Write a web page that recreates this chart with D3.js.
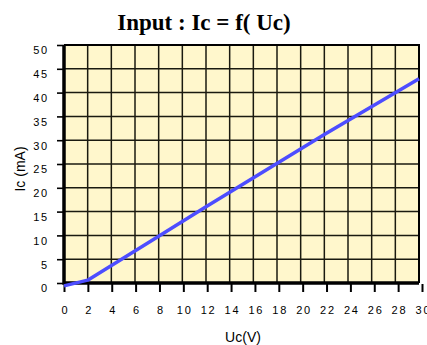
<!DOCTYPE html>
<html>
<head>
<meta charset="utf-8">
<script src="https://cdn.jsdelivr.net/npm/d3@7"></script>
<style>
  body { margin: 0; background: #fff; }
  svg { display: block; }
</style>
</head>
<body>
<svg id="chart" width="427" height="345"></svg>
<script>
// data
const ucValues = [0, 2, 8, 12, 22, 30];
const icValues = [-0.6, 0.6, 9.8, 16, 31.2, 42.9];
const xTicks = [0, 2, 4, 6, 8, 10, 12, 14, 16, 18, 20, 22, 24, 26, 28, 30];
const yTicks = [0, 5, 10, 15, 20, 25, 30, 35, 40, 45, 50];

const svg = d3.select("#chart");

// grid / plot scale and a slightly wider one for the bottom ticks
const x = d3.scaleLinear().domain([0, 30]).range([64, 419]);
const xTick = d3.scaleLinear().domain([0, 30]).range([64, 422]);
const y = d3.scaleLinear().domain([0, 50]).range([283, 45]);

// **** Plot background
svg.append("rect")
  .attr("x", x(0))
  .attr("y", y(50))
  .attr("width", x(30) - x(0))
  .attr("height", y(0) - y(50))
  .attr("fill", "#fff7cc");

// **** Grid
const grid = svg.append("g").attr("stroke", "#1a1a10").attr("stroke-width", 1.5);
xTicks.slice(1, -1).forEach(d => {
  grid.append("line")
    .attr("x1", x(d)).attr("x2", x(d))
    .attr("y1", y(50)).attr("y2", y(0));
});
yTicks.slice(1, -1).forEach(d => {
  grid.append("line")
    .attr("x1", x(0)).attr("x2", x(30))
    .attr("y1", y(d)).attr("y2", y(d));
});

// top and right border
svg.append("path")
  .attr("d", `M${x(0)},${y(50)}H${x(30)}V${y(0)}`)
  .attr("fill", "none")
  .attr("stroke", "#000")
  .attr("stroke-width", 2);

// **** Axes
const xAxis = d3.axisBottom(xTick).tickValues(xTicks).tickSize(8).tickPadding(14);
const gx = svg.append("g")
  .attr("transform", `translate(0,${y(0) + 1})`)
  .call(xAxis);
gx.select(".domain").remove();
gx.selectAll(".tick line").attr("stroke", "#000").attr("stroke-width", 2);
gx.selectAll(".tick text")
  .attr("font-family", "Arial, 'Liberation Sans', sans-serif")
  .attr("font-size", 11)
  .attr("letter-spacing", "1.8px")
  .attr("dx", "0.9")
  .attr("fill", "#000");

const yAxis = d3.axisLeft(y).tickValues(yTicks).tickSize(7).tickPadding(8);
const gy = svg.append("g")
  .attr("transform", `translate(${x(0)},0)`)
  .call(yAxis);
gy.select(".domain").remove();
gy.selectAll(".tick line").attr("stroke", "#000").attr("stroke-width", 1.6);
gy.selectAll(".tick text")
  .attr("font-family", "Arial, 'Liberation Sans', sans-serif")
  .attr("font-size", 11)
  .attr("letter-spacing", "1.8px")
  .attr("dy", "0.8em")
  .attr("fill", "#000");

// thick left and bottom axis lines
svg.append("path")
  .attr("d", `M${x(0)},${y(50)}V${y(0)}H${x(30)}`)
  .attr("fill", "none")
  .attr("stroke", "#000")
  .attr("stroke-width", 3.5);

// **** Curve
const line = d3.line()
  .x((d, i) => x(ucValues[i]))
  .y(d => y(d));

svg.append("path")
  .datum(icValues)
  .attr("d", line)
  .attr("fill", "none")
  .attr("stroke", "#4d4dff")
  .attr("stroke-width", 3.5)
  .attr("stroke-linejoin", "round");

// **** Titles
svg.append("text")
  .attr("x", 204)
  .attr("y", 30)
  .attr("text-anchor", "middle")
  .attr("font-family", "'Times New Roman', 'Liberation Serif', serif")
  .attr("font-weight", "bold")
  .attr("font-size", 23)
  .text("Input : Ic = f( Uc)");

svg.append("text")
  .attr("x", 243)
  .attr("y", 342)
  .attr("text-anchor", "middle")
  .attr("font-family", "Arial, 'Liberation Sans', sans-serif")
  .attr("font-size", 14)
  .text("Uc(V)");

svg.append("text")
  .attr("transform", "translate(25,169) rotate(-90)")
  .attr("text-anchor", "middle")
  .attr("font-family", "Arial, 'Liberation Sans', sans-serif")
  .attr("font-size", 14)
  .text("Ic (mA)");
</script>
</body>
</html>
